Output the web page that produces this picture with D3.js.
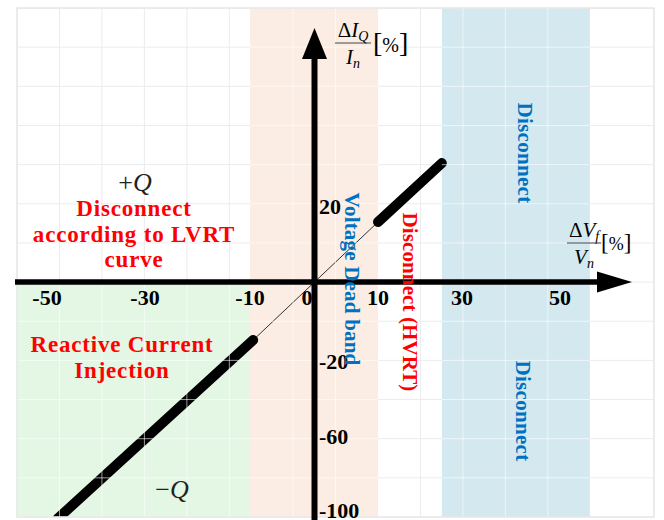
<!DOCTYPE html>
<html>
<head>
<meta charset="utf-8">
<script src="https://cdn.jsdelivr.net/npm/d3@7"></script>
<style>
  html, body { margin: 0; padding: 0; background: #ffffff; }
  svg { display: block; }
</style>
</head>
<body>
<svg id="chart" width="664" height="520"></svg>
<script>
// ---- Axis tick values (ΔV/Vn in %, ΔIQ/In in %) ----
const xTickValues = [-50, -30, -10, 0, 10, 30, 50];
const yTickValues = [20, -20, -60, -100];

// ---- Operating regions ----
const regionNames = ["lvrt", "deadband", "disconnect"];
const regionX0 = [-57, -10, 25.2];
const regionX1 = [-10, 10, 56.1];
const regionY0 = [-104, -104, -104];
const regionY1 = [0, 73, 73];
const regionColors = ["#e3f7e4", "#fbede3", "#d3e9ef"];

// ---- Reactive current characteristic ----
const refLineX = [-9.5, 10];
const refLineY = [-14.7, 15.8];
const injectionX = [-47.8, -9.5];
const injectionY = [-104, -14.7];
const highSideX = [10, 25.2];
const highSideY = [15.8, 31.3];

// ---- Background grid, in cell units ----
const gridCols = [0, 1, 2, 3, 4, 5, 6.5, 7.5, 9.5, 10.5, 11.5, 12.5, 15];
const gridRows = d3.range(0, 14);

const svg = d3.select("#chart");
const frame = { left: 17, top: 8, right: 654, bottom: 517 };

// Schematic (piecewise) axes
const x = d3.scaleLinear().domain(xTickValues).range([47, 145, 250, 314, 378, 462, 560]);
const y = d3.scaleLinear().domain([-100, -60, -20, 0, 20]).range([511, 436, 361, 282, 206]);
const gx = d3.scaleLinear().domain([0, 15]).range([frame.left, frame.right]);
const gy = d3.scaleLinear().domain([0, 13]).range([frame.top, frame.bottom]);

const defs = svg.append("defs");
defs.append("clipPath").attr("id", "frameClip")
  .append("rect")
  .attr("x", frame.left).attr("y", frame.top)
  .attr("width", frame.right - frame.left).attr("height", frame.bottom - frame.top);

const regions = regionNames.map((n, i) => ({
  name: n, x0: regionX0[i], x1: regionX1[i], y0: regionY0[i], y1: regionY1[i], color: regionColors[i]
}));
const regionClip = defs.append("clipPath").attr("id", "regionClip");
regions.forEach(r => {
  regionClip.append("rect")
    .attr("x", x(r.x0)).attr("y", y(r.y1))
    .attr("width", x(r.x1) - x(r.x0)).attr("height", y(r.y0) - y(r.y1));
});

const plot = svg.append("g").attr("clip-path", "url(#frameClip)");

// Light grid on the white background
function drawGrid(g, color, opacity) {
  g.selectAll("line.v").data(gridCols).join("line").attr("class", "v")
    .attr("x1", d => gx(d)).attr("x2", d => gx(d))
    .attr("y1", frame.top).attr("y2", frame.bottom)
    .attr("stroke", color).attr("stroke-opacity", opacity).attr("stroke-width", 1);
  g.selectAll("line.h").data(gridRows).join("line").attr("class", "h")
    .attr("x1", frame.left).attr("x2", frame.right)
    .attr("y1", d => gy(d)).attr("y2", d => gy(d))
    .attr("stroke", color).attr("stroke-opacity", opacity).attr("stroke-width", 1);
}
drawGrid(plot.append("g"), "#ececec", 1);

// Shaded regions
plot.append("g").selectAll("rect").data(regions).join("rect")
  .attr("x", d => x(d.x0)).attr("y", d => y(d.y1))
  .attr("width", d => x(d.x1) - x(d.x0)).attr("height", d => y(d.y0) - y(d.y1))
  .attr("fill", d => d.color);

// Characteristic lines
const line = d3.line().x(d => x(d[0])).y(d => y(d[1]));
plot.append("path")
  .attr("d", line(d3.zip(refLineX, refLineY)))
  .attr("fill", "none").attr("stroke", "#333").attr("stroke-width", 1);
[[injectionX, injectionY], [highSideX, highSideY]].forEach(([xs, ys]) => {
  plot.append("path")
    .attr("d", line(d3.zip(xs, ys)))
    .attr("fill", "none").attr("stroke", "#000").attr("stroke-width", 10)
    .attr("stroke-linecap", "round");
});

// Grid shows through the shaded regions
drawGrid(plot.append("g").attr("clip-path", "url(#regionClip)"), "#ffffff", 0.6);

// Frame
svg.append("rect")
  .attr("x", frame.left).attr("y", frame.top)
  .attr("width", frame.right - frame.left).attr("height", frame.bottom - frame.top)
  .attr("fill", "none").attr("stroke", "#e6e6e6").attr("stroke-width", 1.5);

const serif = "'Liberation Serif', 'Times New Roman', serif";

// Tick labels
svg.append("g").selectAll("text").data(xTickValues).join("text")
  .attr("x", d => x(d) + (d === 0 ? -7 : 0))
  .attr("y", 305)
  .attr("text-anchor", "middle")
  .attr("font-family", serif).attr("font-weight", "bold").attr("font-size", 22)
  .attr("fill", "#000")
  .text(d => d);
svg.append("g").selectAll("text").data(yTickValues).join("text")
  .attr("x", x(0) + 5)
  .attr("y", d => y(d) - (d === -100 ? 1 : 0))
  .attr("dy", "0.35em")
  .attr("text-anchor", "start")
  .attr("font-family", serif).attr("font-weight", "bold").attr("font-size", 22)
  .attr("fill", "#000")
  .text(d => d);

// Axes with arrowheads
const x0 = x(0), y0 = y(0);
svg.append("line")
  .attr("x1", frame.left - 2).attr("x2", 598).attr("y1", y0).attr("y2", y0)
  .attr("stroke", "#000").attr("stroke-width", 5.5);
svg.append("path")
  .attr("d", `M597,${y0 - 10.5}L632,${y0}L597,${y0 + 10.5}Z`).attr("fill", "#000");
svg.append("line")
  .attr("x1", x0 + 0.5).attr("x2", x0 + 0.5).attr("y1", frame.bottom + 3).attr("y2", 58)
  .attr("stroke", "#000").attr("stroke-width", 6);
svg.append("path")
  .attr("d", `M${x0 - 12},59L${x0 + 0.5},28L${x0 + 13},59Z`).attr("fill", "#000");

// Axis titles (fractions)
function fraction(cx, lineY, lineW, num, numSub, den, denSub, bx, by, bSize, pSize) {
  const g = svg.append("g").attr("font-family", serif).attr("fill", "#000");
  const t1 = g.append("text").attr("x", cx).attr("y", lineY - 6)
    .attr("text-anchor", "middle").attr("font-size", 21);
  t1.append("tspan").text("Δ");
  t1.append("tspan").attr("font-style", "italic").text(num);
  t1.append("tspan").attr("font-style", "italic").attr("font-size", 14).attr("dy", 4).text(numSub);
  g.append("line").attr("x1", cx - lineW / 2).attr("x2", cx + lineW / 2)
    .attr("y1", lineY).attr("y2", lineY).attr("stroke", "#444").attr("stroke-width", 1);
  const t2 = g.append("text").attr("x", cx).attr("y", lineY + 21)
    .attr("text-anchor", "middle").attr("font-size", 21);
  t2.append("tspan").attr("font-style", "italic").text(den);
  t2.append("tspan").attr("font-style", "italic").attr("font-size", 14).attr("dy", 4).text(denSub);
  const t3 = g.append("text").attr("x", bx).attr("y", by);
  t3.append("tspan").attr("font-size", bSize).text("[");
  t3.append("tspan").attr("font-size", pSize).text("%");
  t3.append("tspan").attr("font-size", bSize).text("]");
}
fraction(353, 43, 36, "I", "Q", "I", "n", 373, 52, 28, 20);
fraction(584, 243, 34, "V", "f", "V", "n", 601, 250, 23, 18);

// Region annotations
const ann = svg.append("g").attr("font-family", serif);
function block(lines, cx, baseY, step, color, size, spacing) {
  lines.forEach((s, i) => {
    ann.append("text").attr("x", cx).attr("y", baseY + i * step)
      .attr("text-anchor", "middle").attr("font-weight", "bold")
      .attr("font-size", size).attr("letter-spacing", spacing).attr("fill", color).text(s);
  });
}
block(["Disconnect", "according to LVRT", "curve"], 134, 216, 25.5, "#ff0000", 23, 0.8);
block(["Reactive Current", "Injection"], 122, 352, 25.5, "#ff0000", 23, 0.8);

function vertical(label, bx, cy, color, size, spacing) {
  ann.append("text")
    .attr("transform", `translate(${bx},${cy}) rotate(90)`)
    .attr("text-anchor", "middle").attr("font-weight", "bold")
    .attr("font-size", size).attr("letter-spacing", spacing).attr("fill", color).text(label);
}
vertical("Voltage Dead band", 345, 279, "#0070c0", 21, 0.2);
vertical("Disconnect (HVRT)", 403, 302, "#ff0000", 21, 0.1);
vertical("Disconnect", 518, 153, "#0070c0", 21, 0.3);
vertical("Disconnect", 516, 411, "#0070c0", 21, 0.3);

// Reactive power direction
const q1 = ann.append("text").attr("x", 135).attr("y", 191).attr("text-anchor", "middle")
  .attr("font-size", 26).attr("fill", "#222");
q1.append("tspan").text("+");
q1.append("tspan").attr("font-style", "italic").text("Q");
const q2 = ann.append("text").attr("x", 172).attr("y", 498).attr("text-anchor", "middle")
  .attr("font-size", 26).attr("fill", "#222");
q2.append("tspan").text("−");
q2.append("tspan").attr("font-style", "italic").text("Q");
</script>
</body>
</html>
